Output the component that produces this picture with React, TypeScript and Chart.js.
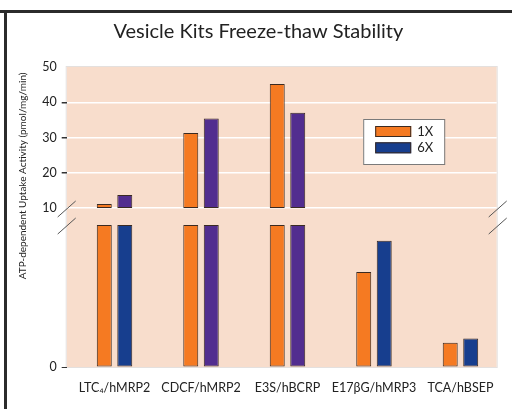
import React, { useEffect, useRef } from 'react';
import { Chart, registerables } from 'chart.js';

Chart.register(...registerables);

// ---------- data ----------
const categories = ['LTC₄/hMRP2', 'CDCF/hMRP2', 'E3S/hBCRP', 'E17βG/hMRP3', 'TCA/hBSEP'];
const series1X = [11.1, 31.3, 45.2, 6.7, 1.7];
const series6X = [13.7, 35.4, 37.0, 8.9, 2.0];
const seriesLabels = ['1X', '6X'];
const breakValue = 10;
const upperTicks = [10, 20, 30, 40, 50];
const lowerTicks = [0];
const chartTitle = 'Vesicle Kits Freeze-thaw Stability';
const yTitle = 'ATP-dependent Uptake Activity (pmol/mg/min)';

// ---------- styles ----------
const ORANGE = '#F57A22';
const BLUE = '#173E8E';
const PURPLE = '#522D8F';
const PEACH = '#F8DDCC';
const BAR_BORDER = '#3a2a22';
const TEXT = '#222222';
const FONT = 'Lato, "Open Sans", sans-serif';
const sixXLowerColors = [BLUE, PURPLE, PURPLE, BLUE, BLUE];
const sixXUpperColor = PURPLE;
const legendColors = [ORANGE, BLUE];

const lowerData = (s: number[]) => s.map((v, i) => ({ x: i, y: Math.min(v, breakValue) }));
const upperData = (s: number[]) =>
  s.map((v, i) => ({ x: i, y: [breakValue, v] })).filter((d) => d.y[1] > breakValue);

const framePlugin = {
  id: 'framePlugin',
  beforeDraw(chart: any) {
    const { ctx, chartArea: a, width, height } = chart;
    ctx.save();
    ctx.fillStyle = '#ffffff';
    ctx.fillRect(0, 0, width, height);
    ctx.fillStyle = '#2b2b2b';
    ctx.fillRect(0, 10, width, 3);
    ctx.fillRect(4, 10, 3, height - 10);
    ctx.fillStyle = PEACH;
    ctx.fillRect(a.left, a.top, a.right - a.left, a.bottom - a.top);
    ctx.strokeStyle = '#e4e0de';
    ctx.lineWidth = 1;
    ctx.strokeRect(a.left - 0.5, a.top - 0.5, a.right - a.left + 1, a.bottom - a.top + 1);
    ctx.restore();
  },
  afterDraw(chart: any) {
    const { ctx, chartArea: a } = chart;
    const yUp = chart.scales.yUp;
    const yLow = chart.scales.yLow;
    ctx.save();
    // break marks
    ctx.strokeStyle = '#555555';
    ctx.lineWidth = 1;
    const ys = [yUp.getPixelForValue(breakValue) + 1, yLow.getPixelForValue(breakValue) + 1];
    const xs = [a.left, a.right + 1];
    for (const x0 of xs) {
      for (const y0 of ys) {
        ctx.beginPath();
        ctx.moveTo(x0 - 9, y0 + 8);
        ctx.lineTo(x0 + 9, y0 - 8);
        ctx.stroke();
      }
    }
    // y title
    ctx.fillStyle = TEXT;
    ctx.font = `10px ${FONT}`;
    ctx.textAlign = 'center';
    ctx.textBaseline = 'middle';
    ctx.translate(23, a.top + 0.363 * (a.bottom - a.top));
    ctx.rotate(-Math.PI / 2);
    ctx.fillText(yTitle, 0, 0);
    ctx.restore();

    // legend
    ctx.save();
    const bx = a.left + 296.5;
    const by = a.top + 52;
    ctx.fillStyle = '#ffffff';
    ctx.fillRect(bx, by, 81, 45);
    ctx.strokeStyle = '#7a7a7a';
    ctx.strokeRect(bx + 0.5, by + 0.5, 81, 45);
    ctx.font = `13px ${FONT}`;
    ctx.textAlign = 'left';
    ctx.textBaseline = 'middle';
    seriesLabels.forEach((lab, i) => {
      const sy = by + 7 + i * 16.3;
      ctx.fillStyle = legendColors[i];
      ctx.fillRect(bx + 12, sy, 36, 11);
      ctx.strokeStyle = BAR_BORDER;
      ctx.strokeRect(bx + 12.5, sy + 0.5, 35, 10);
      ctx.fillStyle = TEXT;
      ctx.fillText(lab, bx + 54, sy + 6);
    });
    ctx.restore();
  },
};

export default function App() {
  const ref = useRef<HTMLCanvasElement | null>(null);
  useEffect(() => {
    if (!ref.current) return;
    const tickFont = { family: FONT, size: 12.5 };
    const chart = new Chart(ref.current, {
      type: 'bar',
      data: {
        datasets: [
          {
            label: seriesLabels[0],
            data: lowerData(series1X) as any,
            yAxisID: 'yLow',
            stack: 'a',
            backgroundColor: ORANGE,
          },
          {
            label: seriesLabels[1],
            data: lowerData(series6X) as any,
            yAxisID: 'yLow',
            stack: 'b',
            backgroundColor: sixXLowerColors,
          },
          {
            label: seriesLabels[0] + ' upper',
            data: upperData(series1X) as any,
            yAxisID: 'yUp',
            stack: 'a',
            backgroundColor: ORANGE,
          },
          {
            label: seriesLabels[1] + ' upper',
            data: upperData(series6X) as any,
            yAxisID: 'yUp',
            stack: 'b',
            backgroundColor: sixXUpperColor,
          },
        ],
      },
      options: {
        responsive: false,
        animation: false,
        devicePixelRatio: 1,
        datasets: {
          bar: {
            borderColor: BAR_BORDER,
            borderWidth: 1,
            borderSkipped: false,
            barPercentage: 0.73,
            categoryPercentage: 0.474,
          },
        },
        layout: { padding: { top: 12, left: 20, right: 15.3, bottom: 0 } },
        plugins: {
          legend: { display: false },
          tooltip: { enabled: false },
          title: {
            display: true,
            text: chartTitle,
            color: TEXT,
            font: { family: FONT, size: 20, weight: 'normal' },
            padding: { top: 8, bottom: 23 },
          },
        },
        scales: {
          x: {
            type: 'linear',
            offset: false,
            min: -0.553,
            max: 4.419,
            afterBuildTicks: (s: any) => {
              s.ticks = categories.map((_, i) => ({ value: i }));
            },
            afterFit: (s: any) => {
              s.height = 42;
            },
            ticks: {
              callback: (v: any) => categories[v as number] ?? '',
              font: tickFont,
              color: TEXT,
              padding: 13,
              autoSkip: false,
              maxRotation: 0,
            },
            grid: { display: false, drawTicks: false, offset: false },
            border: { display: false },
          },
          yLow: {
            type: 'linear',
            position: 'left',
            stack: 'v',
            stackWeight: 159,
            stacked: false,
            min: 0,
            max: 11.2,
            afterBuildTicks: (s: any) => {
              s.ticks = lowerTicks.map((v) => ({ value: v }));
            },
            afterFit: (s: any) => {
              s.width = 46.7;
            },
            ticks: { font: tickFont, color: TEXT, padding: 5 },
            grid: { drawOnChartArea: false, tickColor: '#333333', tickLength: 5 },
            border: { display: false },
          },
          yUp: {
            type: 'linear',
            position: 'left',
            stack: 'v',
            stackWeight: 141,
            stacked: false,
            min: 10,
            max: 50,
            afterBuildTicks: (s: any) => {
              s.ticks = upperTicks.map((v) => ({ value: v }));
            },
            afterFit: (s: any) => {
              s.width = 46.7;
            },
            ticks: { font: tickFont, color: TEXT, padding: 5 },
            grid: {
              color: (c: any) => (c.tick && c.tick.value === 50 ? 'rgba(0,0,0,0)' : '#ffffff'),
              lineWidth: 1.5,
              tickColor: (c: any) =>
                c.tick && (c.tick.value === 10 || c.tick.value === 50) ? 'rgba(0,0,0,0)' : '#333333',
              tickLength: 5,
            },
            border: { display: false },
          },
        } as any,
      },
      plugins: [framePlugin],
    } as any);
    return () => chart.destroy();
  }, []);
  return (
    <canvas
      ref={ref}
      width={512}
      height={409}
      style={{ position: 'fixed', left: 0, top: 0, width: 512, height: 409 }}
    />
  );
}
